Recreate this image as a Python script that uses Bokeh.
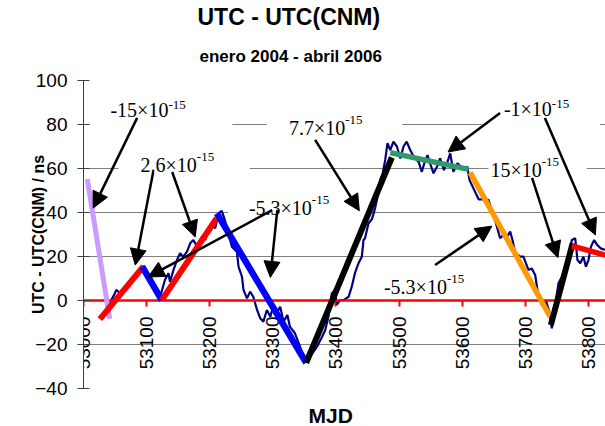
import math
from bokeh.plotting import figure
from bokeh.models import Range1d, FixedTicker, ColumnDataSource, Arrow, NormalHead, Title
from bokeh.core.properties import value
from bokeh.embed import file_html
from bokeh.resources import INLINE

# ---- data: UTC - UTC(CNM) in ns vs MJD ----
mjd = [53041, 53047.5, 53052, 53058, 53066, 53074, 53082, 53090, 53095, 53100,
       53108, 53113.6, 53121.5, 53129, 53134.6, 53137, 53142.6, 53148, 53153, 53158,
       53164, 53169, 53174, 53180, 53187.6, 53193, 53198, 53203, 53208.6, 53214,
       53219, 53223, 53227, 53235, 53243, 53245.6, 53251, 53253.5, 53259, 53264,
       53269, 53275, 53280, 53285, 53290.5, 53296, 53301, 53306, 53311.6, 53317,
       53323, 53327, 53335, 53343, 53351, 53359, 53370, 53378, 53383, 53388,
       53393.5, 53398.7, 53401, 53406.6, 53412, 53420, 53425, 53430, 53435.6, 53441,
       53443.6, 53446, 53451.5, 53457, 53462, 53467, 53470, 53474, 53478, 53481.6,
       53486, 53491, 53496.5, 53502, 53507, 53512, 53517.6, 53523, 53531, 53536,
       53540, 53545, 53550, 53554.5, 53560, 53565, 53571, 53576.6, 53581, 53586,
       53592.5, 53598, 53602, 53608, 53611.5, 53626, 53634, 53641.6, 53647, 53651,
       53655, 53660, 53665, 53671, 53676, 53679.6, 53684, 53692, 53697, 53701,
       53705, 53710, 53715.6, 53720.8, 53726, 53733, 53738, 53742, 53747, 53752.5,
       53758, 53763, 53768, 53773.7, 53779, 53782.6, 53787, 53792, 53796, 53800,
       53804, 53809, 53814, 53819.5, 53826]
offset_ns = [-1.3, 2, 4.8, 3.3, 6.3, 8, 10.8, 13.9, 15.7, 12.4,
             9.3, 4.8, 1.7, 9.3, 12.4, 8.5, 13.9, 18.4, 21.5, 19.9,
             22.2, 26, 27.5, 24.5, 29, 27.5, 32, 35, 32.8, 39.6,
             40.8, 37.4, 33.5, 24.5, 22.2, 15.4, 10.8, 4.8, 1, 4,
             1.7, -4.3, -8.1, -9.6, -4.3, -7.4, -2, -5.8, -2.8, -9.6,
             -6.6, -11.9, -14.9, -21, -27.8, -25.5, -21, -16.5, -13.4, -7.4,
             3.3, 4.8, -2, 0.2, 0.2, 1.7, 6.3, 12.4, 16.9, 19.9,
             27.5, 28.3, 35, 37, 42, 48.7, 54.8, 57.8, 63.9, 71.5,
             68.4, 72.2, 70, 64.6, 70, 72.2, 68.4, 65.4, 63, 58.5,
             62.4, 66.1, 61.6, 57.8, 60.8, 64.6, 59.3, 63, 66.9, 58.5,
             62.4, 60.8, 60, 60.8, 54.8, 46, 46, 45.7, 41, 37.4,
             33.5, 28.3, 29.8, 29, 31.3, 27.5, 21.5, 19.9, 19.9, 16.9,
             13.9, 14.6, 11.6, 1.7, -2, -0.5, -5.1, -12.6, -2.8, 7.8,
             10.8, 15.4, 19.9, 27.5, 28.3, 18.4, 16.9, 19.9, 15.4, 18.4,
             24.5, 27.5, 25.2, 23.7, 23]

# ---- fitted frequency-offset trend segments ----
trend_x0 = [53006, 53026, 53093, 53124, 53211.3, 53352.8, 53486, 53612.6, 53740.4, 53773.7]
trend_y0 = [55.2, -8.5, 15.4, 0.2, 39.6, -28.3, 67.2, 58.1, -11.1, 24.8]
trend_x1 = [53041.5, 53095, 53124, 53211, 53352.8, 53488.5, 53610, 53739.3, 53775, 53827]
trend_y1 = [-8.3, 15.5, 0.2, 37.4, -28.3, 65, 59.6, -7.4, 26, 20.6]
trend_color = ["#CC99FF", "#FF0000", "#0000FF", "#FF0000", "#0000FF",
               "#000000", "#339966", "#FF9900", "#000000", "#FF0000"]
trend_width = [5, 6, 6.5, 6, 6.5, 6, 5.5, 5.5, 6, 5.5]

# ---- annotation texts (base and superscript) and their anchors ----
lab_base = ["-15\u00d710", "2.6\u00d710", "-5.3\u00d710", "7.7\u00d710", "-1\u00d710", "15\u00d710", "-5.3\u00d710"]
lab_sup = ["-15", "-15", "-15", "-15", "-15", "-15", "-15"]
lab_x = [53134.5, 53179.6, 53361.8, 53414.6, 53742, 53726, 53575.7]
lab_y = [85.3, 61.6, 41.9, 78.3, 85.5, 59.3, 6.3]
lab_pad = [(21, 64, 3, 9), (22, 53, 3, 3), (21, 58, 3, 3), (22, 57, 3, 3),
           (22, 48, 3, 10), (2, 45, 3, 3), (20, 45, 2, 2)]

# ---- arrows ----
arr_x0 = [53085, 53110.4, 53140.5, 53299, 53307, 53367, 53660, 53731, 53710.7, 53557]
arr_y0 = [83, 58.4, 58.4, 41.1, 41.1, 73, 85.2, 83, 55.7, 16.1]
arr_x1 = [53015.4, 53082, 53177, 53102.5, 53296, 53437, 53577.6, 53811, 53751.5, 53647]
arr_y1 = [42, 16.1, 28.9, 10.7, 10.5, 40.8, 67.5, 29.8, 19.5, 33.8]

x_ticks = [53000, 53100, 53200, 53300, 53400, 53500, 53600, 53700, 53800]
x_tick_labels = [str(t) for t in x_ticks]
y_ticks = [-40, -20, 0, 20, 40, 60, 80, 100]

p = figure(frame_width=522, frame_height=308,
           min_border_left=83, min_border_right=0, min_border_top=80, min_border_bottom=38,
           x_range=Range1d(53000, 53827), y_range=Range1d(-40, 100),
           output_backend="svg", toolbar_location=None, tools="")
p.outline_line_color = None
p.background_fill_color = "white"
p.border_fill_color = "white"

# titles: main title outermost, subtitle next to the frame
p.title.text = "UTC - UTC(CNM)"
p.title.align = "left"
p.title.offset = 114
p.title.standoff = 1
p.title.text_font = "Liberation Sans"
p.title.text_font_size = "23px"
p.title.text_font_style = "bold"
p.title.text_color = "black"
p.add_layout(Title(text="enero 2004 - abril 2006", align="left", offset=116, standoff=29,
                   text_font="Liberation Sans", text_font_size="17px",
                   text_font_style="bold", text_color="black"), "above")
p.add_layout(Title(text="MJD", align="left", offset=225, standoff=26,
                   text_font="Liberation Sans", text_font_size="21px",
                   text_font_style="bold", text_color="black"), "below")

p.xgrid.visible = False
p.ygrid.ticker = FixedTicker(ticks=y_ticks)
p.ygrid.grid_line_color = "#808080"
p.ygrid.grid_line_width = 1

# x axis crossing at y = 0 (red); its labels are drawn below as text
xa = p.xaxis[0]
xa.fixed_location = 0
xa.ticker = FixedTicker(ticks=x_ticks)
xa.axis_line_color = "#FF0000"
xa.axis_line_width = 2.5
xa.major_tick_line_color = "#FF0000"
xa.major_tick_line_width = 2
xa.major_tick_out = 6
xa.major_tick_in = 0
xa.minor_tick_line_color = None
xa.major_label_text_color = None

ya = p.yaxis[0]
ya.ticker = FixedTicker(ticks=y_ticks)
ya.axis_line_color = "#404040"
ya.major_tick_line_color = "#404040"
ya.major_tick_out = 6
ya.major_tick_in = 6
ya.minor_tick_line_color = None
ya.major_label_standoff = 10
ya.major_label_text_font = "Liberation Sans"
ya.major_label_text_font_size = "19px"
ya.major_label_text_color = "black"
ya.axis_label = "UTC - UTC(CNM) / ns"
ya.axis_label_text_font = "Liberation Sans"
ya.axis_label_text_font_size = "16px"
ya.axis_label_text_font_style = "bold"
ya.axis_label_text_color = "black"
ya.axis_label_standoff = -15

# vertical x tick labels hanging below the zero axis
p.text(x=x_ticks, y=[0] * len(x_ticks), text=x_tick_labels, angle=math.pi / 2,
       text_font=value("Liberation Sans"), text_font_size="19px",
       text_align="right", text_baseline="middle", text_color="black", y_offset=16)

# annotation texts in white boxes (the boxes hide the gridlines behind them)
for i in range(len(lab_base)):
    l, r, t, b = lab_pad[i]
    p.text(x=[lab_x[i]], y=[lab_y[i]], text=[lab_base[i]],
           text_font=value("Liberation Serif"), text_font_size="20px",
           text_align="right", text_baseline="alphabetic", text_color="black",
           background_fill_color="white", x_offset=r,
           padding=dict(left=l, right=r, top=t, bottom=b))
p.text(x=lab_x, y=lab_y, text=lab_sup,
       text_font=value("Liberation Serif"), text_font_size="13px",
       text_align="left", text_baseline="alphabetic", text_color="black",
       y_offset=-8)

# measured data
p.line(mjd, offset_ns, line_color="#000080", line_width=2.2)

# trend segments
tsrc = ColumnDataSource(dict(x0=trend_x0, y0=trend_y0, x1=trend_x1, y1=trend_y1,
                             c=trend_color, w=trend_width))
p.segment(x0="x0", y0="y0", x1="x1", y1="y1", source=tsrc,
          line_color="c", line_width="w", level="annotation")

# arrows
asrc = ColumnDataSource(dict(x0=arr_x0, y0=arr_y0, x1=arr_x1, y1=arr_y1))
p.add_layout(Arrow(end=NormalHead(size=16, fill_color="black", line_color="black", line_width=1),
                   x_start="x0", y_start="y0", x_end="x1", y_end="y1", source=asrc,
                   line_color="black", line_width=2.5))

open("out.html", "w").write(file_html(p, INLINE))
